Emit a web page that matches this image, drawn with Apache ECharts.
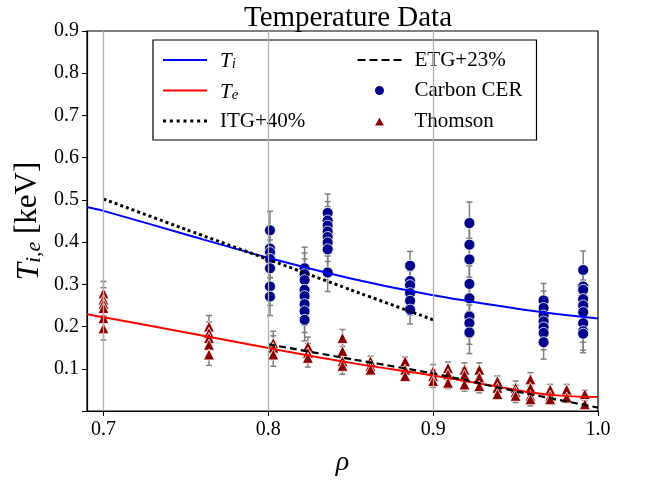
<!DOCTYPE html>
<html>
<head>
<meta charset="utf-8">
<script src="https://cdn.jsdelivr.net/npm/echarts@6/dist/echarts.min.js"></script>
<style>
  html, body { margin: 0; padding: 0; background: #fff; }
  #chart { width: 649px; height: 482px; }
</style>
</head>
<body>
<div id="chart"></div>
<script>
// Fit profiles
const fitRho = [0.69, 0.7, 0.75, 0.8, 0.85, 0.9, 0.95, 0.975, 1.0];
const tiFit = [0.483, 0.474, 0.418, 0.363, 0.314, 0.274, 0.243, 0.230, 0.219];
const teFit = [0.229, 0.222, 0.186, 0.149, 0.114, 0.084, 0.050, 0.037, 0.033];
const itgRho = [0.7, 0.75, 0.8, 0.85, 0.9];
const itgTi = [0.502, 0.430, 0.359, 0.287, 0.216];
const etgRho = [0.8, 0.85, 0.9, 0.95, 1.0];
const etgTe = [0.158, 0.123, 0.089, 0.047, 0.008];

// Carbon CER measurements, one list per radial chord
const cerRho = [0.801, 0.822, 0.836, 0.886, 0.922, 0.967, 0.991];
const cerTi = [
  [0.428, 0.385, 0.376, 0.360, 0.338, 0.295, 0.271],
  [0.338, 0.324, 0.310, 0.287, 0.272, 0.253, 0.236, 0.216],
  [0.469, 0.451, 0.439, 0.425, 0.412, 0.399, 0.383, 0.328],
  [0.344, 0.308, 0.298, 0.279, 0.261, 0.240],
  [0.445, 0.394, 0.359, 0.301, 0.267, 0.224, 0.208, 0.186],
  [0.262, 0.244, 0.226, 0.212, 0.198, 0.185, 0.163],
  [0.334, 0.295, 0.287, 0.265, 0.250, 0.234, 0.208, 0.189, 0.183],
];
const cerErr = [0.045, 0.05, 0.045, 0.034, 0.05, 0.04, 0.045];

// Thomson scattering measurements
const thomsonRho = [0.700, 0.764, 0.803, 0.824, 0.845, 0.862, 0.883, 0.900, 0.909,
  0.919, 0.928, 0.939, 0.950, 0.959, 0.971, 0.981, 0.992];
const thomsonTe = [
  [0.279, 0.264, 0.254, 0.244, 0.220, 0.196],
  [0.200, 0.185, 0.173, 0.157, 0.134],
  [0.161, 0.150, 0.134],
  [0.153, 0.138, 0.126],
  [0.173, 0.142, 0.118, 0.107],
  [0.118, 0.107, 0.098],
  [0.118, 0.098, 0.083],
  [0.095, 0.083, 0.071],
  [0.102, 0.087, 0.067],
  [0.098, 0.085, 0.063],
  [0.098, 0.080, 0.059],
  [0.071, 0.055, 0.040],
  [0.055, 0.045, 0.036],
  [0.075, 0.055, 0.036, 0.028],
  [0.051, 0.036, 0.028],
  [0.051, 0.032],
  [0.040, 0.016],
];
const thomsonErr = [0.028, 0.026, 0.028, 0.022, 0.02, 0.012, 0.01, 0.015, 0.014,
  0.016, 0.016, 0.012, 0.016, 0.016, 0.012, 0.012, 0.009];

const xTicks = [0.7, 0.8, 0.9, 1.0];
const xGridLines = [0.7, 0.8, 0.9];

const SERIF = '"Liberation Serif", "DejaVu Serif", serif';

const pairs = (xs, ys) => xs.map((x, i) => [x, ys[i]]);
const flatten = (rhos, cols) => {
  const out = [];
  cols.forEach((col, i) => col.forEach(v => out.push([rhos[i], v])));
  return out;
};
const flattenErr = (rhos, cols, errs) => {
  const out = [];
  cols.forEach((col, i) => col.forEach(v => out.push([rhos[i], v - errs[i], v + errs[i]])));
  return out;
};

// legend line samples as little filled paths (width 44)
const dashPath = (count, len, thick) => {
  const step = (44 - len) / (count - 1);
  let d = 'path://';
  for (let i = 0; i < count; i++) {
    d += `M${(i * step).toFixed(2)},0h${len}v${thick}h-${len}z`;
  }
  return d;
};
const solidIcon = 'path://M0,0h44v2h-44z';
const dottedIcon = dashPath(7, 3, 3);
const dashedIcon = dashPath(4, 8, 2.2);
const triangleIcon = 'path://M5,0L10,9L0,9z';

const errorBarItem = (params, api) => {
  const x = api.value(0);
  const lo = api.coord([x, api.value(1)]);
  const hi = api.coord([x, api.value(2)]);
  const cap = 3;
  const style = { stroke: '#808080', lineWidth: 1.5 };
  return {
    type: 'group',
    children: [
      { type: 'line', shape: { x1: lo[0], y1: lo[1], x2: hi[0], y2: hi[1] }, style },
      { type: 'line', shape: { x1: lo[0] - cap, y1: lo[1], x2: lo[0] + cap, y2: lo[1] }, style },
      { type: 'line', shape: { x1: hi[0] - cap, y1: hi[1], x2: hi[0] + cap, y2: hi[1] }, style },
    ],
  };
};

const legendNames = {
  'Ti': '{it|T}{sub|i}',
  'Te': '{it|T}{sub|e}',
};

const chart = echarts.init(document.getElementById('chart'));

chart.setOption({
  animation: false,
  title: {
    text: 'Temperature Data',
    left: 343,
    top: -1,
    textAlign: 'center',
    textStyle: { fontFamily: SERIF, fontSize: 29, fontWeight: 'normal', color: '#000' },
  },
  grid: {
    left: 87,
    right: 51,
    top: 31,
    bottom: 68,
    show: true,
    borderColor: '#000',
    borderWidth: 1.2,
  },
  legend: {
    orient: 'vertical',
    left: 153,
    top: 40,
    height: 100,
    padding: [8, 12, 7, 10],
    itemWidth: 44,
    itemHeight: 11,
    itemGap: 6.5,
    symbolKeepAspect: true,
    backgroundColor: '#fff',
    borderColor: '#000',
    borderWidth: 1.2,
    borderRadius: 0,
    formatter: (name) => legendNames[name] || name,
    textStyle: {
      fontFamily: SERIF,
      fontSize: 21,
      color: '#000',
      lineHeight: 24,
      padding: [0, 0, 0, 8],
      rich: {
        it: { fontFamily: SERIF, fontSize: 21, fontStyle: 'italic', lineHeight: 24, verticalAlign: 'bottom' },
        sub: { fontFamily: SERIF, fontSize: 15, fontStyle: 'italic', lineHeight: 16, verticalAlign: 'bottom' },
      },
    },
    data: [
      { name: 'Ti', icon: solidIcon, textStyle: { width: 131 } },
      { name: 'Te', icon: solidIcon, textStyle: { width: 131 } },
      { name: 'ITG+40%', icon: dottedIcon, textStyle: { width: 131 } },
      { name: 'ETG+23%', icon: dashedIcon, textStyle: { width: 110, padding: [0, 0, 0, 8] } },
      { name: 'Carbon CER', icon: 'circle', textStyle: { width: 110, padding: [0, 0, 0, 8] } },
      { name: 'Thomson', icon: triangleIcon, textStyle: { width: 110, padding: [0, 0, 0, 8] } },
    ],
  },
  xAxis: {
    type: 'value',
    min: 0.69,
    max: 1.0,
    name: 'ρ',
    nameLocation: 'middle',
    nameGap: 38,
    nameTextStyle: { fontFamily: SERIF, fontSize: 28, fontStyle: 'italic', color: '#000' },
    axisLine: { lineStyle: { color: '#000', width: 1.2 } },
    axisTick: { show: true, customValues: xTicks, length: 5, lineStyle: { color: '#000' } },
    axisLabel: {
      customValues: xTicks,
      formatter: (v) => v.toFixed(1),
      fontFamily: SERIF,
      fontSize: 20,
      color: '#000',
      margin: 9,
    },
    splitLine: { show: false },
  },
  yAxis: {
    type: 'value',
    min: 0,
    max: 0.9,
    interval: 0.1,
    name: '{it|T}{sub|i,e} [keV]',
    nameLocation: 'middle',
    nameGap: 42,
    nameRotate: 90,
    nameMoveOverlap: false,
    nameTextStyle: {
      fontFamily: SERIF,
      fontSize: 31,
      color: '#000',
      rich: {
        it: { fontFamily: SERIF, fontSize: 31, fontStyle: 'italic', lineHeight: 34, verticalAlign: 'bottom' },
        sub: { fontFamily: SERIF, fontSize: 22, fontStyle: 'italic', lineHeight: 22, verticalAlign: 'bottom' },
      },
    },
    axisLine: { show: true, lineStyle: { color: '#000', width: 1.2 } },
    axisTick: { show: true, length: 5, lineStyle: { color: '#000' } },
    axisLabel: {
      formatter: (v) => (v === 0 ? '' : v.toFixed(1)),
      fontFamily: SERIF,
      fontSize: 20,
      color: '#000',
      margin: 8,
    },
    splitLine: { show: false },
  },
  series: [
    {
      name: 'grid',
      type: 'line',
      data: [],
      z: 0,
      markLine: {
        silent: true,
        symbol: 'none',
        label: { show: false },
        lineStyle: { color: '#b0b0b0', width: 1.3, type: 'solid' },
        data: xGridLines.map(x => ({ xAxis: x })),
      },
    },
    {
      name: 'cerErr',
      type: 'custom',
      renderItem: errorBarItem,
      encode: { x: 0, y: [1, 2] },
      data: flattenErr(cerRho, cerTi, cerErr),
      z: 1,
    },
    {
      name: 'thomsonErr',
      type: 'custom',
      renderItem: errorBarItem,
      encode: { x: 0, y: [1, 2] },
      data: flattenErr(thomsonRho, thomsonTe, thomsonErr),
      z: 1,
    },
    {
      name: 'Carbon CER',
      type: 'scatter',
      symbol: 'circle',
      symbolSize: 11,
      data: flatten(cerRho, cerTi),
      itemStyle: { color: '#00008b', borderColor: '#fff', borderWidth: 0.8, opacity: 1 },
      z: 2,
    },
    {
      name: 'Thomson',
      type: 'scatter',
      symbol: 'triangle',
      symbolSize: 11,
      data: flatten(thomsonRho, thomsonTe),
      itemStyle: { color: '#8b0000', borderColor: '#fff', borderWidth: 0.8, opacity: 1 },
      z: 2,
    },
    {
      name: 'Ti',
      type: 'line',
      data: pairs(fitRho, tiFit),
      smooth: 0.3,
      symbol: 'none',
      lineStyle: { color: '#0000ff', width: 2 },
      itemStyle: { color: '#0000ff' },
      z: 3,
    },
    {
      name: 'Te',
      type: 'line',
      data: pairs(fitRho, teFit),
      smooth: 0.3,
      symbol: 'none',
      lineStyle: { color: '#ff0000', width: 2 },
      itemStyle: { color: '#ff0000' },
      z: 3,
    },
    {
      name: 'ITG+40%',
      type: 'line',
      data: pairs(itgRho, itgTi),
      smooth: 0.2,
      symbol: 'none',
      lineStyle: { color: '#000', width: 3, type: [3, 3], cap: 'butt' },
      itemStyle: { color: '#000' },
      z: 3,
    },
    {
      name: 'ETG+23%',
      type: 'line',
      data: pairs(etgRho, etgTe),
      smooth: 0.2,
      symbol: 'none',
      lineStyle: { color: '#000', width: 2.2, type: [7, 4], cap: 'butt' },
      itemStyle: { color: '#000' },
      z: 3,
    },
  ],
});
</script>
</body>
</html>
